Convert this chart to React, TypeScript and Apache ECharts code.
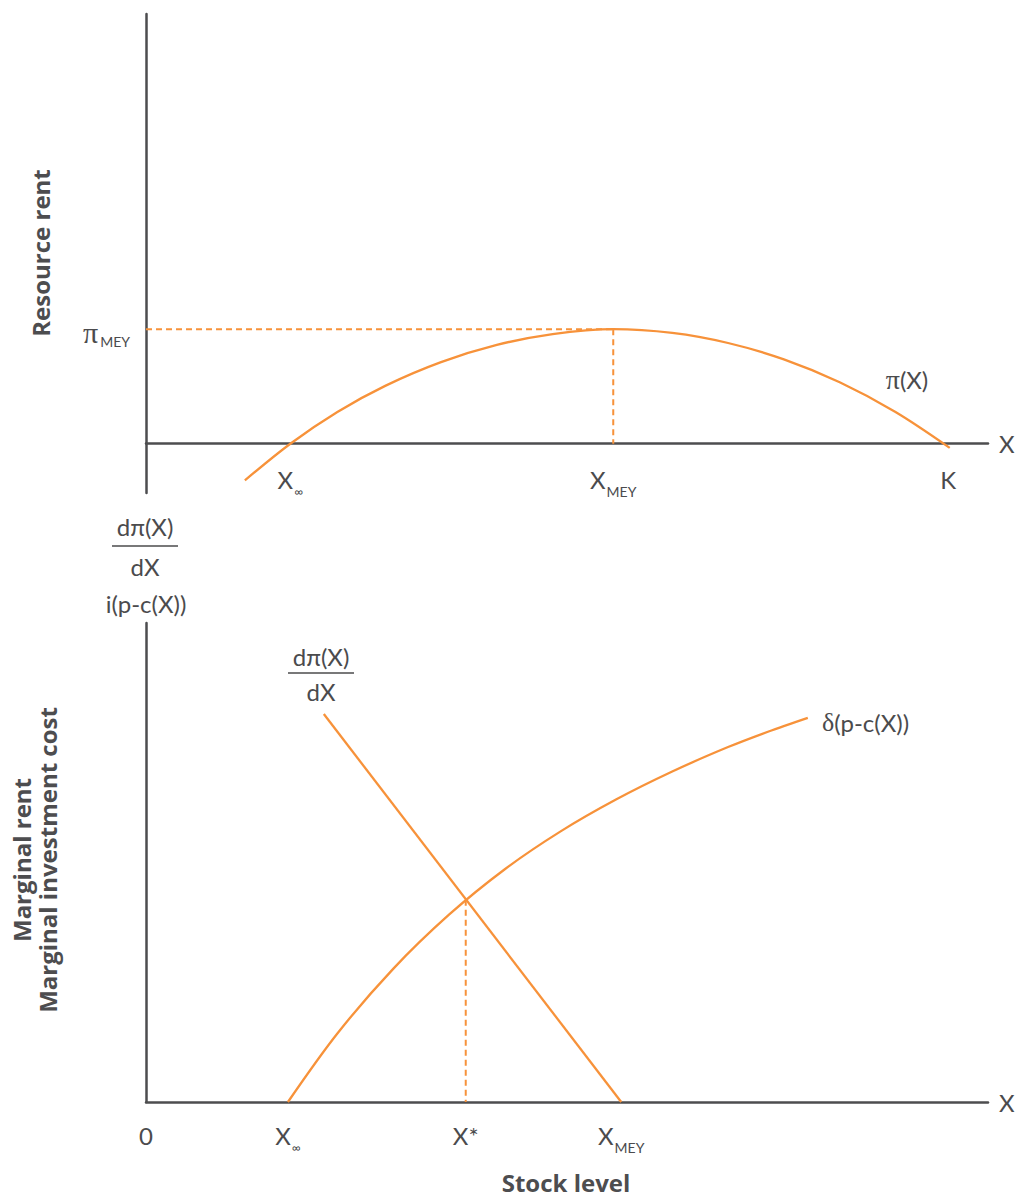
import React, { useEffect, useRef } from "react";
import * as echarts from "echarts";

// ---------- data (stock level on x, rent on y) ----------
const X_MAX = 105.6;
const TOP_Y_MIN = -43;
const TOP_Y_MAX = 375;
const BOTTOM_Y_MAX = 100;

const X_INF_TOP = 18.1;
const X_MEY_TOP = 58.6;
const K_VALUE = 100.6;
const PI_MEY = 100;

const X_INF_BOTTOM = 17.8;
const X_STAR = 40.1;
const X_STAR_Y = 42.2;
const X_MEY_BOTTOM = 59.6;

// π(X) resource rent curve
const resourceRent: [number, number][] = [
  [12.4, -32], [18.1, 0], [24, 27.7], [30, 50.5], [37, 71.2], [44, 86.2],
  [51, 95.7], [58.6, 100], [66, 96.7], [73, 87.9], [80, 73.6], [87, 53.6],
  [94, 27.7], [100.8, -3.6],
];

// dπ(X)/dX marginal rent (straight line)
const marginalRent: [number, number][] = [
  [22.3, 81.0], [59.6, 0],
];

// δ(p - c(X)) marginal investment cost
const investmentCost: [number, number][] = [
  [17.8, 0], [24, 14.3], [31, 27.8], [38, 39.1], [45, 48.6], [52, 56.5],
  [59, 63.2], [66, 69.0], [73, 74.1], [78, 77.3], [83, 80.2],
];

// tick labels
const topTickValues = [X_INF_TOP, X_MEY_TOP, K_VALUE];
const topTickMain = ["X", "X", "K"];
const topTickSub = ["∞", "MEY", ""];

const bottomTickValues = [0, X_INF_BOTTOM, X_STAR, X_MEY_BOTTOM];
const bottomTickMain = ["0", "X", "X*", "X"];
const bottomTickSub = ["", "∞", "", "MEY"];

// ---------- styles ----------
const FONT = "Lato, 'Noto Sans', 'DejaVu Sans', sans-serif";
const BOLD_FONT = "'Open Sans', Lato, sans-serif";
const SERIF = "'Liberation Serif', 'DejaVu Serif', serif";
const TEXT = "#4b4b4d";
const ORANGE = "#f7923a";
const AXIS = "#4d4d4f";
const FS = 24;
const TITLE_FS = 24;
const SMOOTH = 0.33;

const rich: any = {
  m: { fontSize: FS, fontFamily: FONT, color: TEXT, verticalAlign: "top" },
  s: { fontSize: 14, fontFamily: FONT, color: TEXT, verticalAlign: "top", padding: [17, 0, 0, 1] },
  i: { fontSize: 12, fontFamily: FONT, color: TEXT, verticalAlign: "top", padding: [18, 0, 0, 1] },
};

function tickText(main: string, sub: string) {
  if (!sub) return `{m|${main}}`;
  return `{m|${main}}{${sub === "∞" ? "i" : "s"}|${sub}}`;
}

function makeFormatter(values: number[], mains: string[], subs: string[]) {
  return (v: number) => {
    let best = 0;
    for (let i = 1; i < values.length; i++) {
      if (Math.abs(values[i] - v) < Math.abs(values[best] - v)) best = i;
    }
    return tickText(mains[best], subs[best]);
  };
}

const dashed = [6, 4];

function fraction(cx: number, topY: number, ruleY: number, botY: number, halfW: number) {
  return {
    type: "group",
    children: [
      {
        type: "text", x: cx, y: topY,
        style: { text: "dπ(X)", fontSize: FS, fontFamily: FONT, fill: TEXT, align: "center", verticalAlign: "middle" },
      },
      {
        type: "line",
        shape: { x1: cx - halfW, y1: ruleY, x2: cx + halfW, y2: ruleY },
        style: { stroke: TEXT, lineWidth: 1.5 },
      },
      {
        type: "text", x: cx, y: botY,
        style: { text: "dX", fontSize: FS, fontFamily: FONT, fill: TEXT, align: "center", verticalAlign: "middle" },
      },
    ],
  };
}

function buildOption(): any {
  const axisLineStyle = { color: AXIS, width: 2.5 };
  const topGridHeight = 479;
  // shift the top x axis up to the zero level of the rent axis
  const zeroOffset = -(topGridHeight * (0 - TOP_Y_MIN)) / (TOP_Y_MAX - TOP_Y_MIN);
  return {
    animation: false,
    backgroundColor: "#ffffff",
    grid: [
      { left: 146, top: 14, width: 842, height: topGridHeight },
      { left: 146, top: 623, width: 842, height: 479 },
    ],
    xAxis: [
      {
        type: "value", gridIndex: 0, min: 0, max: X_MAX,
        position: "bottom", offset: zeroOffset,
        axisLine: { show: true, onZero: false, lineStyle: axisLineStyle },
        axisTick: { show: false },
        splitLine: { show: false },
        axisLabel: {
          customValues: topTickValues,
          formatter: makeFormatter(topTickValues, topTickMain, topTickSub),
          rich, margin: 24,
        },
        name: "X", nameLocation: "end", nameGap: 11,
        nameTextStyle: { fontSize: FS, fontFamily: FONT, color: TEXT, verticalAlign: "middle" },
      },
      {
        type: "value", gridIndex: 1, min: 0, max: X_MAX,
        axisLine: { show: true, onZero: false, lineStyle: axisLineStyle },
        axisTick: { show: false },
        splitLine: { show: false },
        axisLabel: {
          customValues: bottomTickValues,
          formatter: makeFormatter(bottomTickValues, bottomTickMain, bottomTickSub),
          rich, margin: 21,
        },
        name: "X", nameLocation: "end", nameGap: 11,
        nameTextStyle: { fontSize: FS, fontFamily: FONT, color: TEXT, verticalAlign: "middle" },
      },
    ],
    yAxis: [
      {
        type: "value", gridIndex: 0, min: TOP_Y_MIN, max: TOP_Y_MAX,
        axisLine: { show: true, onZero: false, lineStyle: axisLineStyle },
        axisTick: { show: false }, axisLabel: { show: false }, splitLine: { show: false },
      },
      {
        type: "value", gridIndex: 1, min: 0, max: BOTTOM_Y_MAX,
        axisLine: { show: true, onZero: false, lineStyle: axisLineStyle },
        axisTick: { show: false }, axisLabel: { show: false }, splitLine: { show: false },
      },
    ],
    series: [
      {
        type: "line", xAxisIndex: 0, yAxisIndex: 0, symbol: "none", silent: true,
        data: [[0, PI_MEY], [X_MEY_TOP, PI_MEY]],
        lineStyle: { color: ORANGE, width: 2, type: dashed },
      },
      {
        type: "line", xAxisIndex: 0, yAxisIndex: 0, symbol: "none", silent: true,
        data: [[X_MEY_TOP, PI_MEY], [X_MEY_TOP, 0]],
        lineStyle: { color: ORANGE, width: 2, type: dashed },
      },
      {
        type: "line", xAxisIndex: 0, yAxisIndex: 0, symbol: "none", silent: true,
        smooth: SMOOTH, data: resourceRent,
        lineStyle: { color: ORANGE, width: 2.3 },
      },
      {
        type: "line", xAxisIndex: 1, yAxisIndex: 1, symbol: "none", silent: true,
        data: [[X_STAR, X_STAR_Y], [X_STAR, 0]],
        lineStyle: { color: ORANGE, width: 2, type: dashed },
      },
      {
        type: "line", xAxisIndex: 1, yAxisIndex: 1, symbol: "none", silent: true,
        data: marginalRent,
        lineStyle: { color: ORANGE, width: 2.3 },
      },
      {
        type: "line", xAxisIndex: 1, yAxisIndex: 1, symbol: "none", silent: true,
        smooth: SMOOTH, data: investmentCost,
        lineStyle: { color: ORANGE, width: 2.3 },
      },
    ],
    graphic: [
      {
        type: "text", x: 40, y: 253, rotation: Math.PI / 2,
        style: { text: "Resource rent", fontSize: TITLE_FS, fontWeight: "bold", fontFamily: BOLD_FONT, fill: AXIS, align: "center", verticalAlign: "middle" },
      },
      {
        type: "text", x: 34, y: 860, rotation: Math.PI / 2,
        style: {
          text: "Marginal rent\nMarginal investment cost", fontSize: TITLE_FS, lineHeight: 26,
          fontWeight: "bold", fontFamily: BOLD_FONT, fill: AXIS, align: "center", verticalAlign: "middle",
        },
      },
      {
        type: "text", x: 566, y: 1182,
        style: { text: "Stock level", fontSize: TITLE_FS, fontWeight: "bold", fontFamily: BOLD_FONT, fill: AXIS, align: "center", verticalAlign: "middle" },
      },
      {
        type: "text", x: 130, y: 333,
        style: {
          text: "{p|π}{s|MEY}", align: "right", verticalAlign: "middle",
          rich: {
            p: { fontSize: 30, fontFamily: SERIF, fill: TEXT, color: TEXT, verticalAlign: "top" },
            s: { fontSize: 14, fontFamily: FONT, fill: TEXT, color: TEXT, verticalAlign: "top", padding: [17, 0, 0, 2] },
          },
        },
      },
      {
        type: "text", x: 907, y: 379,
        style: {
          text: "{p|π}{t|(X)}", align: "center", verticalAlign: "middle",
          rich: {
            p: { fontSize: 28, fontFamily: SERIF, fill: TEXT, color: TEXT },
            t: { fontSize: FS, fontFamily: FONT, fill: TEXT, color: TEXT },
          },
        },
      },
      {
        type: "text", x: 822, y: 722,
        style: {
          text: "{p|δ}{t|(p-c(X))}", align: "left", verticalAlign: "middle",
          rich: {
            p: { fontSize: 26, fontFamily: SERIF, fill: TEXT, color: TEXT },
            t: { fontSize: FS, fontFamily: FONT, fill: TEXT, color: TEXT },
          },
        },
      },
      fraction(145, 526, 546, 566, 33),
      {
        type: "text", x: 146, y: 603,
        style: { text: "i(p-c(X))", fontSize: FS, fontFamily: FONT, fill: TEXT, align: "center", verticalAlign: "middle" },
      },
      fraction(321, 656, 673, 691, 33),
    ],
  };
}

export default function App() {
  const ref = useRef<HTMLDivElement>(null);
  useEffect(() => {
    if (!ref.current) return;
    const chart = echarts.init(ref.current, null, { renderer: "svg" });
    chart.setOption(buildOption());
    return () => chart.dispose();
  }, []);
  return (
    <div
      ref={ref}
      style={{ position: "absolute", left: 0, top: 0, width: 1019, height: 1198 }}
    />
  );
}
